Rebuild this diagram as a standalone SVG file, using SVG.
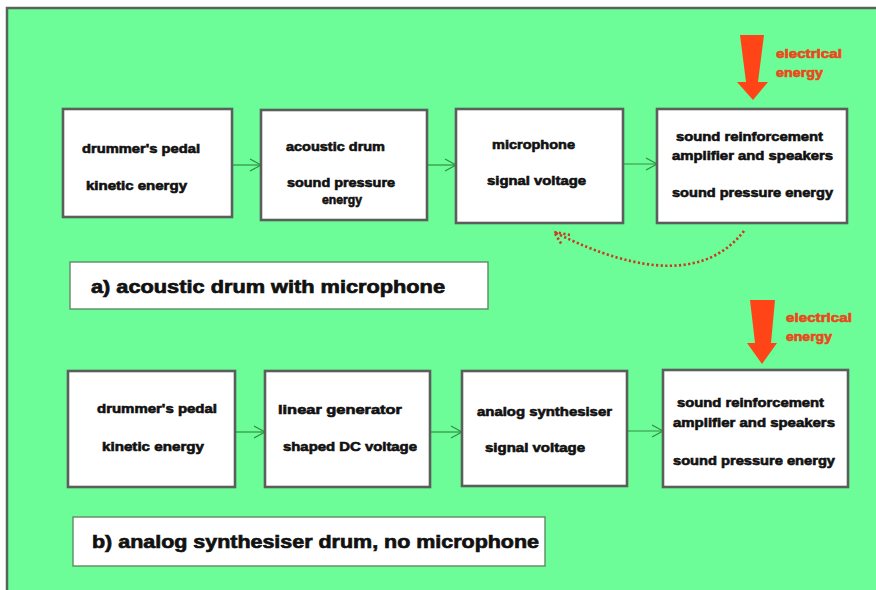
<svg xmlns="http://www.w3.org/2000/svg" width="876" height="590" viewBox="0 0 876 590">
<defs>
<style>
.bg{fill:#6cfd98;stroke:#58645a;stroke-width:2.5}
.box{fill:#ffffff;stroke:#5b5f5b;stroke-width:2.6}
.lbl{fill:#ffffff;stroke:#5f8a66;stroke-width:1.4}
.t{font-family:"Liberation Sans",Arial,sans-serif;font-weight:bold;font-size:12.5px;fill:#111111;stroke:#111111;stroke-width:0.6}
.L{font-family:"Liberation Sans",Arial,sans-serif;font-weight:bold;font-size:19px;fill:#111111;stroke:#111111;stroke-width:0.7}
.e{font-family:"Liberation Sans",Arial,sans-serif;font-weight:bold;font-size:12px;fill:#e84a1c;stroke:#e84a1c;stroke-width:0.6}
.con{fill:none;stroke:#2f8f45;stroke-width:1.2}
.red{fill:#ff4518}
.dot{fill:none;stroke:#c83a22;stroke-width:2.6;stroke-dasharray:2.2 2.4}
</style>
<marker id="ah" markerWidth="14" markerHeight="14" refX="12" refY="7" orient="auto" markerUnits="userSpaceOnUse">
<path d="M1,1 L12,7 L1,13" fill="none" stroke="#2f8f45" stroke-width="1.2"/>
</marker>
</defs>
<rect x="0" y="0" width="876" height="590" fill="#ffffff"/>
<rect class="bg" x="7" y="8" width="880" height="600"/>

<g id="connectors">
<line class="con" x1="232" y1="165" x2="261" y2="165" marker-end="url(#ah)"/>
<line class="con" x1="427" y1="165" x2="456" y2="165" marker-end="url(#ah)"/>
<line class="con" x1="623" y1="164" x2="657" y2="164" marker-end="url(#ah)"/>
<line class="con" x1="235" y1="432" x2="265" y2="432" marker-end="url(#ah)"/>
<line class="con" x1="430" y1="432" x2="462" y2="432" marker-end="url(#ah)"/>
<line class="con" x1="627" y1="431" x2="663" y2="431" marker-end="url(#ah)"/>
<path class="dot" d="M744,231 Q690,300 554,232"/>
<path class="dot" d="M570,235 L554,232 L562,245"/>
</g>

<g id="a1"><rect class="box" x="63" y="109" width="169" height="108"/>
<text class="t" x="82" y="153" textLength="118" lengthAdjust="spacingAndGlyphs">drummer's pedal</text>
<text class="t" x="86" y="190" textLength="101" lengthAdjust="spacingAndGlyphs">kinetic energy</text></g>

<g id="a2"><rect class="box" x="261" y="110" width="166" height="110"/>
<text class="t" x="286" y="151" textLength="99" lengthAdjust="spacingAndGlyphs">acoustic drum</text>
<text class="t" x="287" y="187" textLength="108" lengthAdjust="spacingAndGlyphs">sound pressure</text>
<text class="t" x="322" y="204" textLength="40" lengthAdjust="spacingAndGlyphs">energy</text></g>

<g id="a3"><rect class="box" x="456" y="109" width="167" height="114"/>
<text class="t" x="492" y="149" textLength="83" lengthAdjust="spacingAndGlyphs">microphone</text>
<text class="t" x="487" y="185" textLength="99" lengthAdjust="spacingAndGlyphs">signal voltage</text></g>

<g id="a4"><rect class="box" x="657" y="109" width="190" height="114"/>
<text class="t" x="676" y="141" textLength="147" lengthAdjust="spacingAndGlyphs">sound reinforcement</text>
<text class="t" x="672" y="160" textLength="161" lengthAdjust="spacingAndGlyphs">amplifier and speakers</text>
<text class="t" x="672" y="197" textLength="161" lengthAdjust="spacingAndGlyphs">sound pressure energy</text></g>

<g id="ea"><path class="red" d="M740,35 L764,35 L758,82 L768,82 L753,100 L737,82 L746,82 Z"/>
<text class="e" x="776" y="58" textLength="66" lengthAdjust="spacingAndGlyphs">electrical</text>
<text class="e" x="776" y="77" textLength="47" lengthAdjust="spacingAndGlyphs">energy</text></g>

<g id="labela"><rect class="lbl" x="70" y="262" width="418" height="47"/>
<text class="L" x="91" y="293" textLength="354" lengthAdjust="spacingAndGlyphs">a)  acoustic drum with microphone</text></g>

<g id="b1"><rect class="box" x="68" y="371" width="167" height="116"/>
<text class="t" x="97" y="413" textLength="120" lengthAdjust="spacingAndGlyphs">drummer's pedal</text>
<text class="t" x="102" y="451" textLength="102" lengthAdjust="spacingAndGlyphs">kinetic energy</text></g>

<g id="b2"><rect class="box" x="265" y="371" width="165" height="116"/>
<text class="t" x="278" y="414" textLength="124" lengthAdjust="spacingAndGlyphs">linear generator</text>
<text class="t" x="283" y="451" textLength="134" lengthAdjust="spacingAndGlyphs">shaped DC voltage</text></g>

<g id="b3"><rect class="box" x="462" y="371" width="165" height="115"/>
<text class="t" x="477" y="416" textLength="135" lengthAdjust="spacingAndGlyphs">analog synthesiser</text>
<text class="t" x="485" y="452" textLength="100" lengthAdjust="spacingAndGlyphs">signal voltage</text></g>

<g id="b4"><rect class="box" x="663" y="370" width="185" height="117"/>
<text class="t" x="677" y="407" textLength="147" lengthAdjust="spacingAndGlyphs">sound reinforcement</text>
<text class="t" x="673" y="427" textLength="162" lengthAdjust="spacingAndGlyphs">amplifier and speakers</text>
<text class="t" x="673" y="465" textLength="162" lengthAdjust="spacingAndGlyphs">sound pressure energy</text></g>

<g id="eb"><path class="red" d="M750,300 L775,300 L771,343 L777,343 L762,364 L747,343 L755,343 Z"/>
<text class="e" x="786" y="322" textLength="66" lengthAdjust="spacingAndGlyphs">electrical</text>
<text class="e" x="786" y="341" textLength="46" lengthAdjust="spacingAndGlyphs">energy</text></g>

<g id="labelb"><rect class="lbl" x="73" y="517" width="472" height="49"/>
<text class="L" x="92" y="548" textLength="447" lengthAdjust="spacingAndGlyphs">b)  analog synthesiser drum, no microphone</text></g>
</svg>
